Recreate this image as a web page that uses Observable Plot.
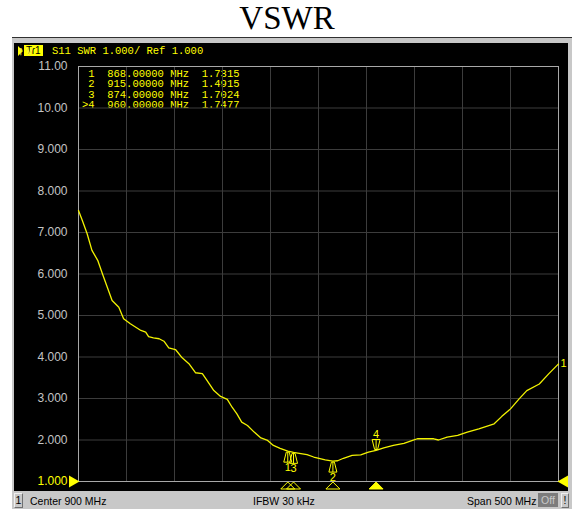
<!DOCTYPE html>
<html>
<head>
<meta charset="utf-8">
<script src="https://cdn.jsdelivr.net/npm/d3@7"></script>
<script src="https://cdn.jsdelivr.net/npm/@observablehq/plot@0.6"></script>
<style>
  body { margin:0; background:#fff; width:574px; height:509px; position:relative; overflow:hidden; }
  #title { position:absolute; left:0; top:2px; width:574px; text-align:center; font-family:"Liberation Serif",serif; font-size:33px; line-height:33px; color:#000; }
  #panel { position:absolute; left:12px; top:37px; width:560px; height:472px; background:#c8c8c8; border-top:1px solid #303030; box-sizing:border-box; }
  #screen { position:absolute; left:14px; top:43px; width:554px; height:448px; background:#000; }
  #screen svg { position:absolute; left:0; top:0; }
  .mono { font-family:"Liberation Mono",monospace; font-size:10.5px; color:#ffff00; white-space:pre; position:absolute; }
  #hdr { left:38px; top:2px; line-height:12px; }
  #tri { position:absolute; left:4px; top:3px; width:0; height:0; border-left:5px solid #ffff00; border-top:5px solid transparent; border-bottom:5px solid transparent; }
  #tr { position:absolute; left:10px; top:2px; height:11px; line-height:11px; background:#ffff00; color:#000; font-family:"Liberation Sans",sans-serif; font-size:10px; padding:0 2px; }
  #mk { left:68px; top:26px; line-height:10.4px; }
  .sb { position:absolute; font-family:"Liberation Sans",sans-serif; font-size:10.5px; color:#000; top:495px; line-height:12px; white-space:pre; }
</style>
</head>
<body>
<div id="title">VSWR</div>
<div id="panel"></div>
<div id="screen"><div id="tri"></div><div id="tr">Tr1</div></div>
<div class="sb" style="left:14px;top:493px;width:7px;height:13px;border:1px solid #f0f0f0;border-right-color:#707070;border-bottom-color:#707070;text-align:center;line-height:13px;">1</div>
<div class="sb" style="left:30px;">Center 900 MHz</div>
<div class="sb" style="left:253px;">IFBW 30 kHz</div>
<div class="sb" style="left:467px;">Span 500 MHz</div>
<div class="sb" style="left:538px;top:493px;width:20px;height:14px;background:#7c7c7c;color:#c8c8c8;text-align:center;line-height:14px;">Off</div>
<div class="sb" style="left:561px;top:493px;width:6px;height:13px;border:1px solid #f0f0f0;border-right-color:#707070;border-bottom-color:#707070;text-align:center;line-height:13px;">!</div>
<script>
// ---- data ----
const freqs = [650,654,659,664,670,675,680,685,692,697,704,715,720,723,728,734,739,744,751,758,765,772,779,784,791,798,805,810,815,820,826,833,840,847,853,860,868,874,880,888,895,907,915,920,926,935,944,952,960,968,978,989,998,1003,1020,1025,1034,1045,1055,1067,1083,1091,1100,1109,1117,1130,1140,1149,1150];
const vswr = [7.53,7.29,6.97,6.57,6.33,6.00,5.68,5.36,5.20,4.92,4.80,4.64,4.60,4.49,4.46,4.44,4.38,4.22,4.18,3.98,3.84,3.62,3.60,3.43,3.19,3.05,2.98,2.79,2.63,2.43,2.35,2.19,2.05,1.99,1.87,1.80,1.7315,1.7024,1.68,1.65,1.59,1.52,1.4915,1.50,1.56,1.63,1.64,1.71,1.7477,1.81,1.87,1.92,1.99,2.03,2.03,2.00,2.07,2.11,2.19,2.27,2.39,2.57,2.75,2.99,3.19,3.35,3.60,3.81,3.83];
const markerIds = [1, 2, 3, 4];
const markerFreqs = [868, 915, 874, 960];
const markerVals = [1.7315, 1.4915, 1.7024, 1.7477];
const activeMarker = 4;
const yTicks = [1,2,3,4,5,6,7,8,9,10,11];
const yTickLabels = ["1.000","2.000","3.000","4.000","5.000","6.000","7.000","8.000","9.000","10.00","11.00"];
const xGrid = [700,750,800,850,900,950,1000,1050,1100];
const headerText = "S11 SWR 1.000/ Ref 1.000";
const title = "VSWR";

const trace = freqs.map((f, i) => ({f, v: vswr[i]}));
const markers = markerIds.map((id, i) => ({id, f: markerFreqs[i], v: markerVals[i], active: id === activeMarker}));

// header & marker table
const scr = document.getElementById("screen");
const hdr = document.createElement("div");
hdr.className = "mono"; hdr.id = "hdr";
hdr.textContent = headerText;
scr.appendChild(hdr);
const mk = document.createElement("div");
mk.className = "mono"; mk.id = "mk";
mk.textContent = markers.map(m =>
  (m.active ? ">" : " ") + m.id + "  " + m.f.toFixed(5) + " MHz  " + m.v.toFixed(4)).join("\n");
scr.appendChild(mk);

// symbols
const flatUp = { draw(c, size) { const r = Math.sqrt(size / Math.PI); c.moveTo(0, -r/2); c.lineTo(r, r/2); c.lineTo(-r, r/2); c.closePath(); } };
const belowMark = { draw(c) { c.moveTo(-1.5, 1); c.lineTo(1.5, 1); c.lineTo(4, 11); c.lineTo(-4, 11); c.closePath(); c.moveTo(0, 1); c.lineTo(0, 11); } };
const aboveMark = { draw(c) { c.moveTo(-1.5, -1); c.lineTo(1.5, -1); c.lineTo(4, -11); c.lineTo(-4, -11); c.closePath(); c.moveTo(0, -1); c.lineTo(0, -11); } };
const yel = "#ffff00";
const lineYel = "#f2f200";
const font = "Liberation Sans";

const chart = Plot.plot({
  width: 554,
  height: 448,
  marginLeft: 64,
  marginRight: 10,
  marginTop: 23,
  marginBottom: 10,
  style: {background: "transparent", fontFamily: font, overflow: "visible"},
  x: {domain: [650, 1150], axis: null},
  y: {domain: [1, 11], axis: null},
  marks: [
    Plot.ruleY(yTicks.slice(1, -1), {stroke: "#3c3c3c", strokeWidth: 1}),
    Plot.ruleX(xGrid, {stroke: "#3c3c3c", strokeWidth: 1}),
    Plot.frame({stroke: "#a8a8a8", strokeWidth: 1}),
    Plot.axisY(yTicks.slice(1), {tickSize: 0, tickPadding: 11, fontSize: 12, fill: "#c4c4c4",
      tickFormat: d => yTickLabels[yTicks.indexOf(d)]}),
    Plot.axisY(yTicks.slice(0, 1), {tickSize: 0, tickPadding: 11, fontSize: 12, fill: yel,
      tickFormat: d => yTickLabels[yTicks.indexOf(d)]}),
    Plot.dot([yTicks[0]], {x: () => 650, y: d => d, symbol: "triangle", rotate: 90, r: 4.5, dx: -6, fill: yel, stroke: null}),
    Plot.dot([yTicks[0]], {x: () => 1150, y: d => d, symbol: "triangle", rotate: -90, r: 4.5, dx: 6, fill: yel, stroke: null}),
    Plot.line(trace, {x: "f", y: "v", stroke: lineYel, strokeWidth: 1.3}),
    Plot.text(trace.slice(-1), {x: "f", y: "v", text: () => "1", dx: 2, dy: -1, fill: yel, fontSize: 11, textAnchor: "start"}),
    // on-curve markers
    Plot.dot(markers.filter(m => !m.active), {x: "f", y: "v", symbol: belowMark, r: 5, stroke: yel, fill: "none", strokeWidth: 1}),
    Plot.text(markers.filter(m => !m.active), {x: "f", y: "v", text: "id", dy: 16, fill: yel, fontSize: 11}),
    Plot.dot(markers.filter(m => m.active), {x: "f", y: "v", symbol: aboveMark, r: 5, stroke: yel, fill: "none", strokeWidth: 1}),
    Plot.text(markers.filter(m => m.active), {x: "f", y: "v", text: "id", dy: -16, fill: yel, fontSize: 11}),
    // bottom markers
    Plot.dot(markers.filter(m => !m.active), {x: "f", y: () => 1, symbol: flatUp, r: 7, dy: 4, stroke: yel, fill: "none", strokeWidth: 1}),
    Plot.dot(markers.filter(m => m.active), {x: "f", y: () => 1, symbol: flatUp, r: 7, dy: 4, stroke: yel, fill: yel, strokeWidth: 1})
  ]
});
scr.appendChild(chart);
</script>
</body>
</html>
